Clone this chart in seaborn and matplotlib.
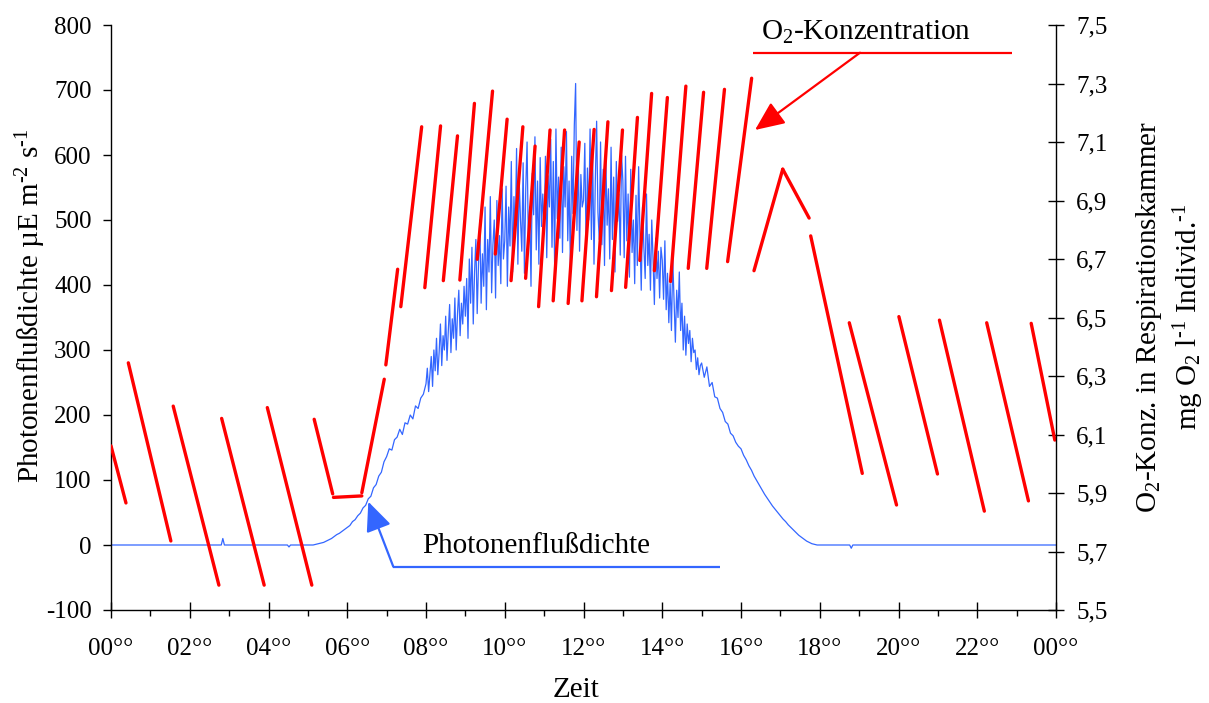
import numpy as np
import pandas as pd
import matplotlib
matplotlib.use("Agg")
import matplotlib.pyplot as plt
from matplotlib.ticker import FixedLocator, MultipleLocator
import seaborn as sns

# ---------------------------------------------------------------------------
# Photon flux density (µE m-2 s-1), one list per clock hour; the readings of
# each list are evenly spaced within that hour (4-min or 2-min interval)
# ---------------------------------------------------------------------------
flux_05 = [0, 0, 0, 1, 2, 3, 4, 6, 8, 10, 13, 16, 18, 21, 24]
flux_06 = [27, 30, 36, 39, 45, 49, 57, 61, 71, 75, 88, 93, 106, 112, 128]
flux_07 = [136, 148, 146, 162, 166, 178, 170, 188, 186, 200, 194, 214, 210, 226, 232]
flux_08 = [248, 272, 236, 262, 290, 244, 300, 268, 318, 262, 296, 340, 276, 322, 300,
           352, 284, 330, 370, 296, 348, 318, 380, 300, 356, 392, 322, 372, 340, 398]
flux_09 = [352, 410, 318, 440, 372, 458, 340, 420, 470, 356, 432, 500, 372, 448, 398,
           520, 362, 470, 420, 536, 388, 462, 500, 380, 530, 430, 476, 402, 548, 440]
flux_10 = [468, 552, 398, 520, 460, 590, 420, 536, 478, 610, 432, 560, 500, 452, 588,
           418, 548, 620, 462, 520, 398, 572, 508, 628, 454, 560, 432, 596, 490, 540]
flux_11 = [482, 598, 442, 568, 520, 624, 458, 590, 430, 640, 502, 566, 472, 612, 450,
           582, 520, 636, 468, 560, 428, 598, 510, 646, 710, 484, 602, 452, 570, 520]
flux_12 = [530, 618, 452, 580, 500, 640, 470, 598, 432, 560, 652, 512, 470, 620, 462,
           578, 430, 600, 492, 548, 440, 612, 470, 566, 420, 590, 498, 540, 446, 600]
flux_13 = [560, 442, 598, 468, 540, 412, 578, 450, 500, 402, 538, 430, 582, 478, 392,
           520, 458, 410, 540, 430, 478, 392, 500, 440, 370, 472, 410, 452, 380, 458]
flux_14 = [438, 378, 468, 362, 418, 342, 402, 330, 440, 378, 312, 392, 350, 420, 330,
           372, 300, 352, 292, 340, 310, 330, 282, 318, 296, 300, 270, 288, 262, 276]
flux_15 = [280, 258, 274, 244, 250, 228, 226, 210, 204, 190, 186, 172, 168, 158, 152]
flux_16 = [148, 138, 131, 122, 115, 106, 99, 92, 85, 78, 72, 66, 60, 55, 50]
flux_17 = [45, 40, 36, 31, 27, 23, 19, 15, 12, 9, 6, 4, 2, 1, 0]
flux_by_hour = {5: flux_05, 6: flux_06, 7: flux_07, 8: flux_08, 9: flux_09,
                10: flux_10, 11: flux_11, 12: flux_12, 13: flux_13, 14: flux_14,
                15: flux_15, 16: flux_16, 17: flux_17}

# Night readings (dark chamber)
night_hours = [0.0, 2.80, 2.84, 2.88, 4.48, 4.52, 4.56, 18.0, 18.76, 18.80, 18.84, 24.0]
night_flux = [0, 0, 10, 0, 0, -3, 0, 0, 0, -5, 0, 0]

# ---------------------------------------------------------------------------
# O2 concentration in the respiration chamber (mg O2 l-1 Individ.-1):
# each measuring run is one straight trace from start to end
# ---------------------------------------------------------------------------
o2_start_hour = [0.00, 0.44, 1.58, 2.81, 3.97, 5.16, 5.65, 6.37, 6.98, 7.36,
                 7.97, 8.44, 8.86, 9.30, 9.76, 10.16, 10.53, 10.86, 11.23, 11.61,
                 11.96, 12.33, 12.71, 13.07, 13.43, 13.80, 14.21, 14.66, 15.13, 15.66,
                 16.33, 17.06, 17.77, 18.75, 20.01, 21.04, 22.24, 23.37]
o2_start_value = [6.061, 6.345, 6.197, 6.155, 6.192, 6.152, 5.885, 5.901, 6.338, 6.537,
                  6.602, 6.626, 6.628, 6.699, 6.717, 6.626, 6.634, 6.537, 6.557, 6.548,
                  6.557, 6.571, 6.592, 6.603, 6.695, 6.660, 6.623, 6.668, 6.668, 6.691,
                  6.660, 7.007, 6.779, 6.482, 6.503, 6.491, 6.482, 6.480]
o2_end_hour = [0.38, 1.52, 2.74, 3.89, 5.10, 5.63, 6.37, 6.94, 7.28, 7.89,
               8.37, 8.80, 9.23, 9.69, 10.06, 10.46, 10.77, 11.15, 11.52, 11.89,
               12.27, 12.62, 12.99, 13.37, 13.73, 14.13, 14.60, 15.05, 15.58, 16.27,
               17.06, 17.73, 19.08, 19.95, 20.99, 22.18, 23.30, 23.97]
o2_end_value = [5.866, 5.736, 5.585, 5.585, 5.585, 5.897, 5.890, 6.289, 6.665, 7.152,
                7.155, 7.121, 7.232, 7.274, 7.178, 7.152, 7.086, 7.141, 7.141, 7.100,
                7.143, 7.169, 7.141, 7.184, 7.266, 7.252, 7.291, 7.270, 7.280, 7.318,
                7.007, 6.840, 5.967, 5.859, 5.965, 5.838, 5.873, 6.081]

# Axis ticks
hour_ticks = [0, 2, 4, 6, 8, 10, 12, 14, 16, 18, 20, 22, 24]
hour_labels = ["00°°", "02°°", "04°°", "06°°", "08°°", "10°°", "12°°",
               "14°°", "16°°", "18°°", "20°°", "22°°", "00°°"]
flux_ticks = [-100, 0, 100, 200, 300, 400, 500, 600, 700, 800]
o2_ticks = [5.5, 5.7, 5.9, 6.1, 6.3, 6.5, 6.7, 6.9, 7.1, 7.3, 7.5]
o2_tick_labels = ["5,5", "5,7", "5,9", "6,1", "6,3", "6,5", "6,7", "6,9", "7,1", "7,3", "7,5"]

# ---------------------------------------------------------------------------
# Assemble tables
# ---------------------------------------------------------------------------
day_hours, day_flux = [], []
for hr, vals in flux_by_hour.items():
    n = len(vals)
    day_hours.extend(hr + np.arange(n) / n)
    day_flux.extend(vals)
flux_df = pd.DataFrame({
    "hour": np.concatenate([night_hours, day_hours]),
    "flux": np.concatenate([night_flux, day_flux]),
}).sort_values("hour")

o2_rows = []
for i, (h0, v0, h1, v1) in enumerate(zip(o2_start_hour, o2_start_value,
                                         o2_end_hour, o2_end_value)):
    o2_rows.append({"run": i, "hour": h0, "o2": v0})
    o2_rows.append({"run": i, "hour": h1, "o2": v1})
o2_df = pd.DataFrame(o2_rows)

# ---------------------------------------------------------------------------
# Style
# ---------------------------------------------------------------------------
sns.set_theme(style="ticks")
plt.rcParams["font.family"] = ["Liberation Serif", "DejaVu Serif"]
plt.rcParams["mathtext.fontset"] = "custom"
plt.rcParams["mathtext.rm"] = "Liberation Serif"
plt.rcParams["mathtext.it"] = "Liberation Serif:italic"
plt.rcParams["axes.linewidth"] = 1.0
for key in ("text.color", "axes.labelcolor", "xtick.color", "ytick.color", "axes.edgecolor"):
    plt.rcParams[key] = "black"

RED = "#FF0000"
BLUE = "#3366FF"
TICK_FS = 18
LABEL_FS = 21

W, H = 1209, 703
ax_l, ax_r, ax_t, ax_b = 111, 1056, 25, 610
fig = plt.figure(figsize=(W / 100, H / 100), dpi=100)
fig.patch.set_facecolor("white")
ax = fig.add_axes([ax_l / W, 1 - ax_b / H, (ax_r - ax_l) / W, (ax_b - ax_t) / H])
ax2 = ax.twinx()

# Photon flux (left axis)
sns.lineplot(data=flux_df, x="hour", y="flux", ax=ax, color=BLUE, linewidth=0.9,
             estimator=None, sort=False)

# O2 runs (right axis)
sns.lineplot(data=o2_df, x="hour", y="o2", units="run", estimator=None, ax=ax2,
             color=RED, linewidth=2.4, solid_capstyle="round")

ax.set_xlim(0, 24)
ax.set_ylim(-100, 800)
ax2.set_ylim(5.5, 7.5)

ax.xaxis.set_major_locator(FixedLocator(hour_ticks))
ax.set_xticklabels(hour_labels)
ax.xaxis.set_minor_locator(MultipleLocator(1))
ax.yaxis.set_major_locator(FixedLocator(flux_ticks))
ax.set_yticklabels([str(v) for v in flux_ticks])
ax2.yaxis.set_major_locator(FixedLocator(o2_ticks))
ax2.set_yticklabels(o2_tick_labels)

ax.set_xlabel("")
ax.set_ylabel("")
ax2.set_ylabel("")

for s in ("top", "right"):
    ax.spines[s].set_visible(False)
for s in ("top", "left", "bottom"):
    ax2.spines[s].set_visible(False)

ax.tick_params(axis="x", which="major", direction="inout", length=11, width=1,
               pad=15, labelsize=TICK_FS, colors="black")
ax.tick_params(axis="x", which="minor", direction="out", length=4, width=1, colors="black")
ax.tick_params(axis="y", which="major", direction="out", length=6, width=1,
               pad=8, labelsize=TICK_FS, colors="black")
ax2.tick_params(axis="y", which="major", direction="inout", length=11, width=1,
                pad=9, labelsize=TICK_FS, colors="black")
ax.grid(False)
ax2.grid(False)

# Axis titles
SUP = r"$^{\text{%s}}$"
SUB = r"$_{\text{%s}}$"
fig.text(31 / W, 1 - 306 / H,
         "Photonenflußdichte µE m" + SUP % "-2" + " s" + SUP % "-1",
         rotation=90, ha="center", va="center", fontsize=LABEL_FS)
fig.text(1149 / W, 1 - 317 / H, "O" + SUB % "2" + "-Konz. in Respirationskammer",
         rotation=90, ha="center", va="center", fontsize=LABEL_FS)
fig.text(1189 / W, 1 - 317 / H,
         "mg O" + SUB % "2" + " l" + SUP % "-1" + " Individ." + SUP % "-1",
         rotation=90, ha="center", va="center", fontsize=LABEL_FS)
fig.text(576 / W, 1 - 690 / H, "Zeit", ha="center", va="center", fontsize=LABEL_FS)


def axfrac(px, py):
    return ((px - ax_l) / (ax_r - ax_l), (ax_b - py) / (ax_b - ax_t))


# Series callouts
ux0, uy = axfrac(753, 52.7)
ux1, _ = axfrac(1012, 52.7)
ax.plot([ux0, ux1], [uy, uy], transform=ax.transAxes, color=RED, lw=1.6,
        clip_on=False, solid_capstyle="butt")
ax.annotate("", xy=axfrac(755, 130), xytext=axfrac(860, 52.7),
            xycoords="axes fraction", textcoords="axes fraction",
            arrowprops=dict(arrowstyle="-|>,head_length=0.5,head_width=0.22",
                            mutation_scale=36, color=RED, lw=1.6,
                            shrinkA=0, shrinkB=0))
ax.text(*axfrac(761, 40), "O" + SUB % "2" + "-Konzentration", transform=ax.transAxes,
        ha="left", va="baseline", fontsize=LABEL_FS)

bx0, by = axfrac(393.3, 566.7)
bx1, _ = axfrac(720, 566.7)
ax.plot([bx0, bx1], [by, by], transform=ax.transAxes, color=BLUE, lw=1.6,
        clip_on=False, solid_capstyle="butt")
ax.annotate("", xy=axfrac(368.3, 501.7), xytext=(bx0, by),
            xycoords="axes fraction", textcoords="axes fraction",
            arrowprops=dict(arrowstyle="-|>,head_length=0.5,head_width=0.22",
                            mutation_scale=36, color=BLUE, lw=1.6,
                            shrinkA=0, shrinkB=0))
ax.text(*axfrac(422, 553.3), "Photonenflußdichte", transform=ax.transAxes,
        ha="left", va="baseline", fontsize=LABEL_FS)

fig.savefig("out.png", dpi=100, facecolor="white")
